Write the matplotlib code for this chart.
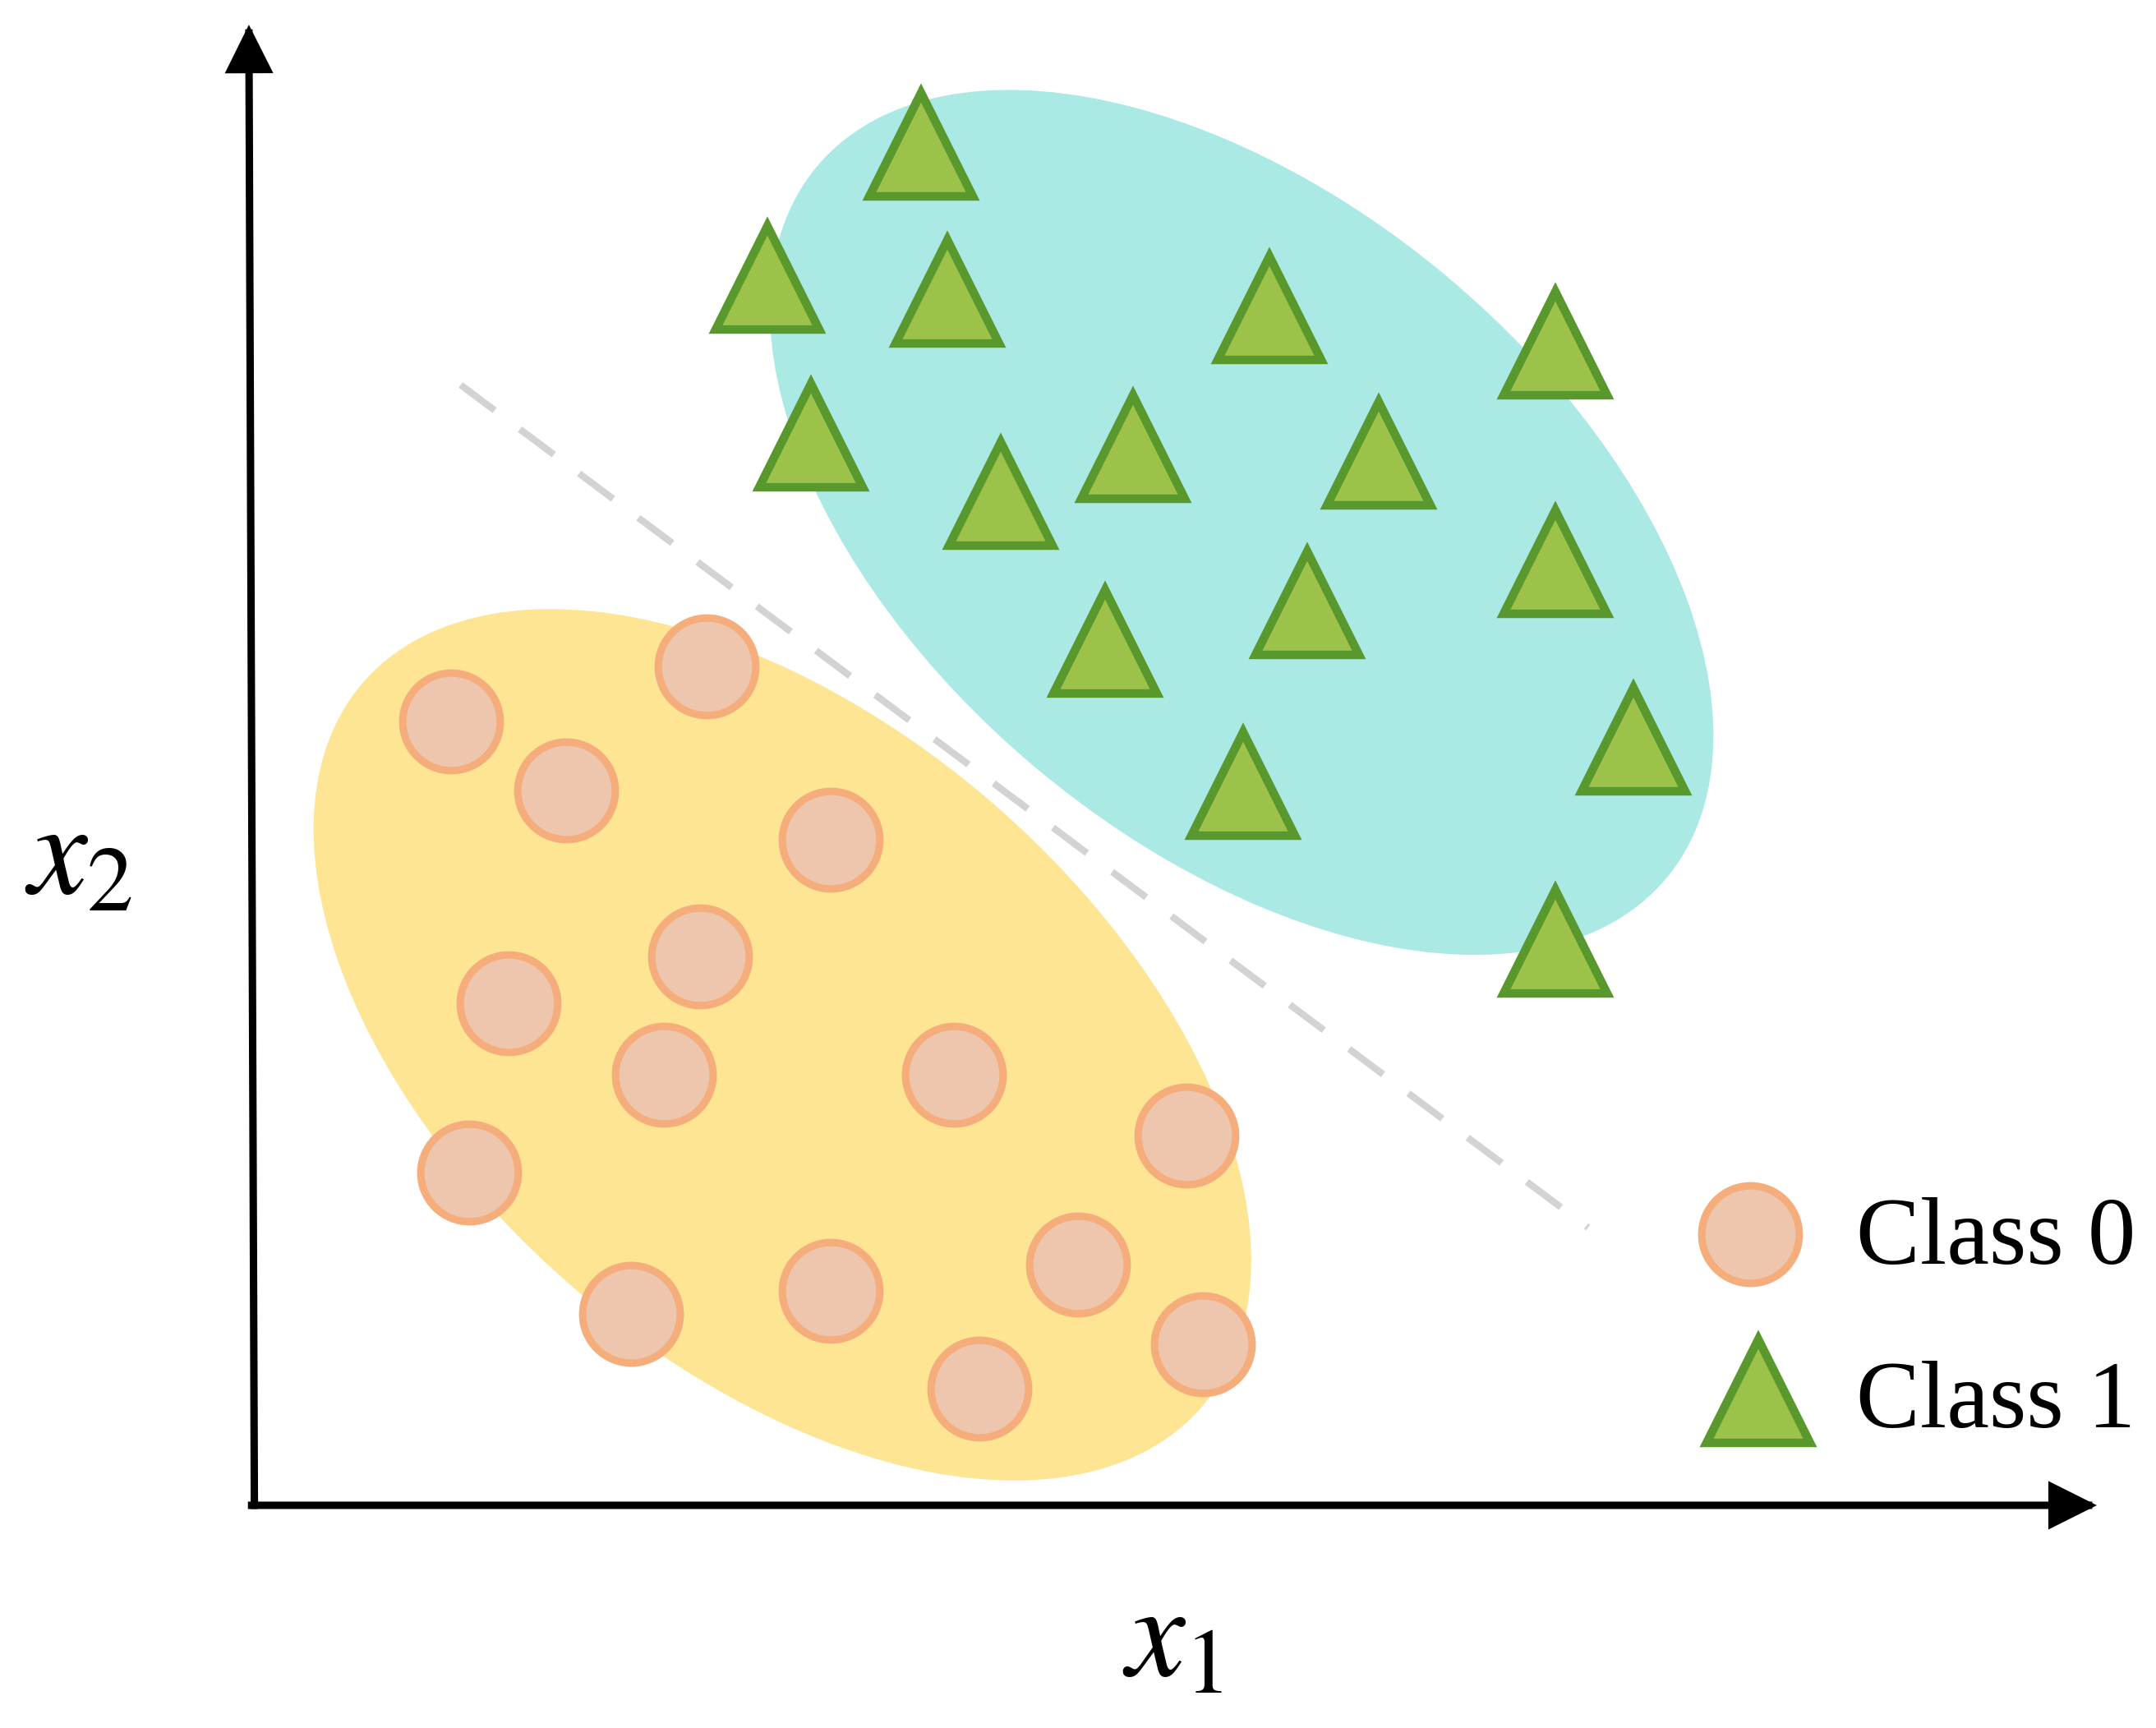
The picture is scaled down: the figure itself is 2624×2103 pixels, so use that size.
import matplotlib
matplotlib.use("Agg")
import matplotlib.pyplot as plt
from matplotlib.patches import Ellipse

plt.rcParams['mathtext.fontset'] = 'stix'

# ---- data (picture coordinates, y grows downward) ----
class0_x = [328, 412, 514, 604, 370, 509, 483, 694, 863, 341, 459, 604, 784, 712, 875]
class0_y = [525, 575, 485, 611, 730, 696, 782, 782, 826, 853, 956, 939, 920, 1010, 978]

class1_x = [670, 558, 689, 923, 1131, 590, 824, 1003, 728, 1131, 951, 804, 1188, 904, 1131]
class1_y = [105, 202, 212, 224, 250, 317, 325, 330, 359, 409, 439, 467, 538, 570, 685]

# cluster regions: centre x, centre y, width, height, angle
region0 = (569, 760, 806, 466, 40.8)
region1 = (903, 380, 806, 466, 40.0)

# decision boundary (dashed)
boundary_x = [335, 1155]
boundary_y = [280, 893]

legend_labels = ["Class 0", "Class 1"]
legend_marker_x = [1273, 1279]
legend_marker_y = [898, 1012]
legend_text_x = [1350, 1350]
legend_text_y = [919, 1038]

# ---- colours ----
yellow_fill = "#FDE594"
teal_fill = "#AAE9E4"
circ_face = "#EDC6AD"
circ_edge = "#F4AD7B"
tri_face = "#9DC24A"
tri_edge = "#58982C"
dash_col = "#D3D3D3"

fig = plt.figure(figsize=(26.24, 21.03), dpi=100)
ax = fig.add_axes([0, 0, 1, 1])
ax.set_xlim(0, 1568)
ax.set_ylim(1257, 0)
ax.axis('off')

for (cx, cy, w, h, a), col in [(region0, yellow_fill), (region1, teal_fill)]:
    ax.add_patch(Ellipse((cx, cy), w, h, angle=a, facecolor=col, edgecolor='none', zorder=1))

ax.plot(boundary_x, boundary_y, color=dash_col, lw=6.0, linestyle=(0, (6.2, 4.6)),
        solid_capstyle='butt', dash_capstyle='butt', zorder=2)

circ_kw = dict(linestyle='none', marker='o', ms=85.5, mfc=circ_face, mec=circ_edge, mew=6.5, zorder=3)
tri_kw = dict(linestyle='none', marker='^', ms=91, mfc=tri_face, mec=tri_edge, mew=7.5, zorder=3)

ax.plot(class0_x, class0_y, **circ_kw)
ax.plot(class1_x, class1_y, **tri_kw)

# axes arrows
arrow_kw = dict(arrowstyle='-|>', color='black', lw=6.5, mutation_scale=80,
                shrinkA=0, shrinkB=0, joinstyle='miter', capstyle='projecting')
ax.annotate('', xy=(1525, 1095), xytext=(183, 1095), arrowprops=arrow_kw, zorder=4)
ax.annotate('', xy=(181, 18), xytext=(185, 1095), arrowprops=arrow_kw, zorder=4)

ax.text(18, 650, r'$x_2$', fontsize=116, ha='left', va='baseline')
ax.text(816, 1219, r'$x_{\mathit{1}}$', fontsize=116, ha='left', va='baseline')

# legend
ax.plot(legend_marker_x[0], legend_marker_y[0], **circ_kw)
ax.plot(legend_marker_x[1], legend_marker_y[1], **tri_kw)
for lab, tx, ty in zip(legend_labels, legend_text_x, legend_text_y):
    ax.text(tx, ty, lab, fontsize=84, family='Liberation Serif', ha='left', va='baseline')

fig.savefig('out.png', dpi=100, facecolor='white')
